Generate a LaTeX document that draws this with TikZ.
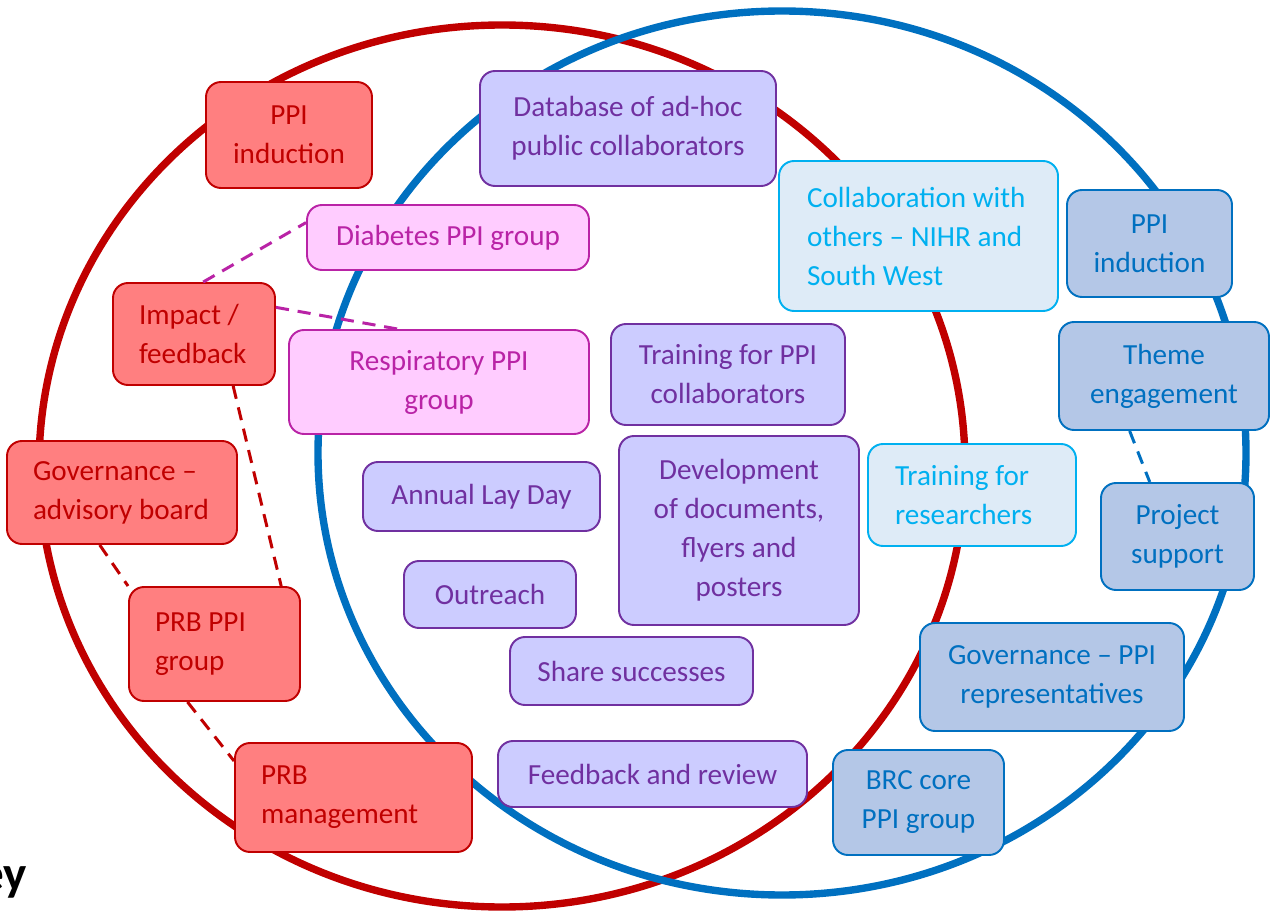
\documentclass[tikz,border=0pt]{standalone}
\usepackage{fontspec}
\setmainfont{Carlito}
\definecolor{dkred}{HTML}{C00000}
\definecolor{ltred}{HTML}{FF7F80}
\definecolor{magent}{HTML}{B923A6}
\definecolor{ltpink}{HTML}{FFCCFF}
\definecolor{purp}{HTML}{7030A0}
\definecolor{ltpurp}{HTML}{CCCCFF}
\definecolor{cyanb}{HTML}{00B0F0}
\definecolor{ltcyan}{HTML}{DEEBF7}
\definecolor{dkblue}{HTML}{0070C0}
\definecolor{ltblue}{HTML}{B4C7E7}
\tikzset{
  box/.style={rounded corners=0.3cm, line width=1.1pt, inner sep=0pt, align=center,
    font=\fontsize{16.6}{22.2}\selectfont},
  redbox/.style={box, draw=dkred, fill=ltred, text=dkred},
  pinkbox/.style={box, draw=magent, fill=ltpink, text=magent},
  purpbox/.style={box, draw=purp, fill=ltpurp, text=purp},
  cyanbox/.style={box, draw=cyanb, fill=ltcyan, text=cyanb},
  bluebox/.style={box, draw=dkblue, fill=ltblue, text=dkblue},
  lefttext/.style={align=flush left, text width=#1},
  link/.style={line width=1.7pt, dash pattern=on 7.5pt off 5pt}
}

\begin{document}
\begin{tikzpicture}
  \useasboundingbox (0,0) rectangle (25.42,-18.22);
  % the two rings
  \draw[dkred, line width=4.2pt] (10.04,-9.32) ellipse (9.26 and 8.82);
  \draw[dkblue, line width=4.2pt] (15.64,-9.06) ellipse (9.28 and 8.84);

  % left ring
  \node[redbox, minimum width=3.32cm, minimum height=2.12cm] (ppil) at (5.78,-2.70) {PPI\\induction};
  \node[redbox, lefttext=2.20cm, minimum width=3.24cm, minimum height=2.04cm] (impact) at (3.88,-6.68) {Impact~/\\feedback};
  \node[redbox, lefttext=3.56cm, minimum width=4.60cm, minimum height=2.06cm] (govb) at (2.44,-9.85) {Governance~--\\advisory~board};
  \node[redbox, lefttext=2.38cm, minimum width=3.42cm, minimum height=2.28cm] (prbppi) at (4.29,-12.88) {PRB~PPI\\group};
  \node[redbox, lefttext=3.70cm, minimum width=4.74cm, minimum height=2.18cm] (prbman) at (7.07,-15.95) {PRB\\management};
  \node[pinkbox, minimum width=5.64cm, minimum height=1.30cm] (diab) at (8.96,-4.75) {Diabetes PPI group};
  \node[pinkbox, minimum width=6.00cm, minimum height=2.08cm] (resp) at (8.78,-7.64) {Respiratory PPI\\group};

  % overlap
  \node[purpbox, minimum width=5.92cm, minimum height=2.30cm] (dbase) at (12.56,-2.57) {Database of ad-hoc\\public collaborators};
  \node[purpbox, minimum width=4.68cm, minimum height=2.02cm] (trainppi) at (14.56,-7.49) {Training for PPI\\collaborators};
  \node[purpbox, minimum width=4.74cm, minimum height=1.38cm] (layday) at (9.63,-9.93) {Annual Lay Day};
  \node[purpbox, minimum width=4.80cm, minimum height=3.78cm] (docs) at (14.78,-10.61) {Development\\of documents,\\flyers and\\posters};
  \node[purpbox, minimum width=3.44cm, minimum height=1.34cm] (outr) at (9.80,-11.89) {Outreach};
  \node[purpbox, minimum width=4.86cm, minimum height=1.36cm] (share) at (12.63,-13.42) {Share successes};
  \node[purpbox, minimum width=6.18cm, minimum height=1.32cm] (review) at (13.05,-15.48) {Feedback and review};

  % right ring
  \node[cyanbox, lefttext=4.46cm, minimum width=5.58cm, minimum height=3.00cm] (collab) at (18.37,-4.72) {Collaboration~with\\others~--~NIHR~and\\South~West};
  \node[cyanbox, lefttext=3.08cm, minimum width=4.16cm, minimum height=2.04cm] (trainres) at (19.44,-9.90) {Training~for\\researchers};
  \node[bluebox, minimum width=3.30cm, minimum height=2.14cm] (ppir) at (22.99,-4.87) {PPI\\induction};
  \node[bluebox, minimum width=4.20cm, minimum height=2.16cm] (theme) at (23.28,-7.52) {Theme\\engagement};
  \node[bluebox, minimum width=3.06cm, minimum height=2.14cm] (proj) at (23.55,-10.73) {Project\\support};
  \node[bluebox, minimum width=5.28cm, minimum height=2.16cm] (govp) at (21.04,-13.54) {Governance -- PPI\\representatives};
  \node[bluebox, minimum width=3.42cm, minimum height=2.10cm] (brc) at (18.37,-16.05) {BRC core\\PPI group};

  % dashed links
  \draw[link, magent] (impact.80) -- (diab.174);
  \draw[link, magent] (impact.18) -- (resp.128);
  \draw[link, dkred] (impact.-53) -- (prbppi.41);
  \draw[link, dkred] (govb.247) -- (prbppi.north west);
  \draw[link, dkred] (prbppi.245) -- (prbman.163);
  \draw[link, dkblue] (theme.238) -- (proj.117);

  \node[anchor=base east, font=\fontsize{28}{30}\selectfont\bfseries] (key) at (0.66,-17.8) {Key};
\end{tikzpicture}
\end{document}
